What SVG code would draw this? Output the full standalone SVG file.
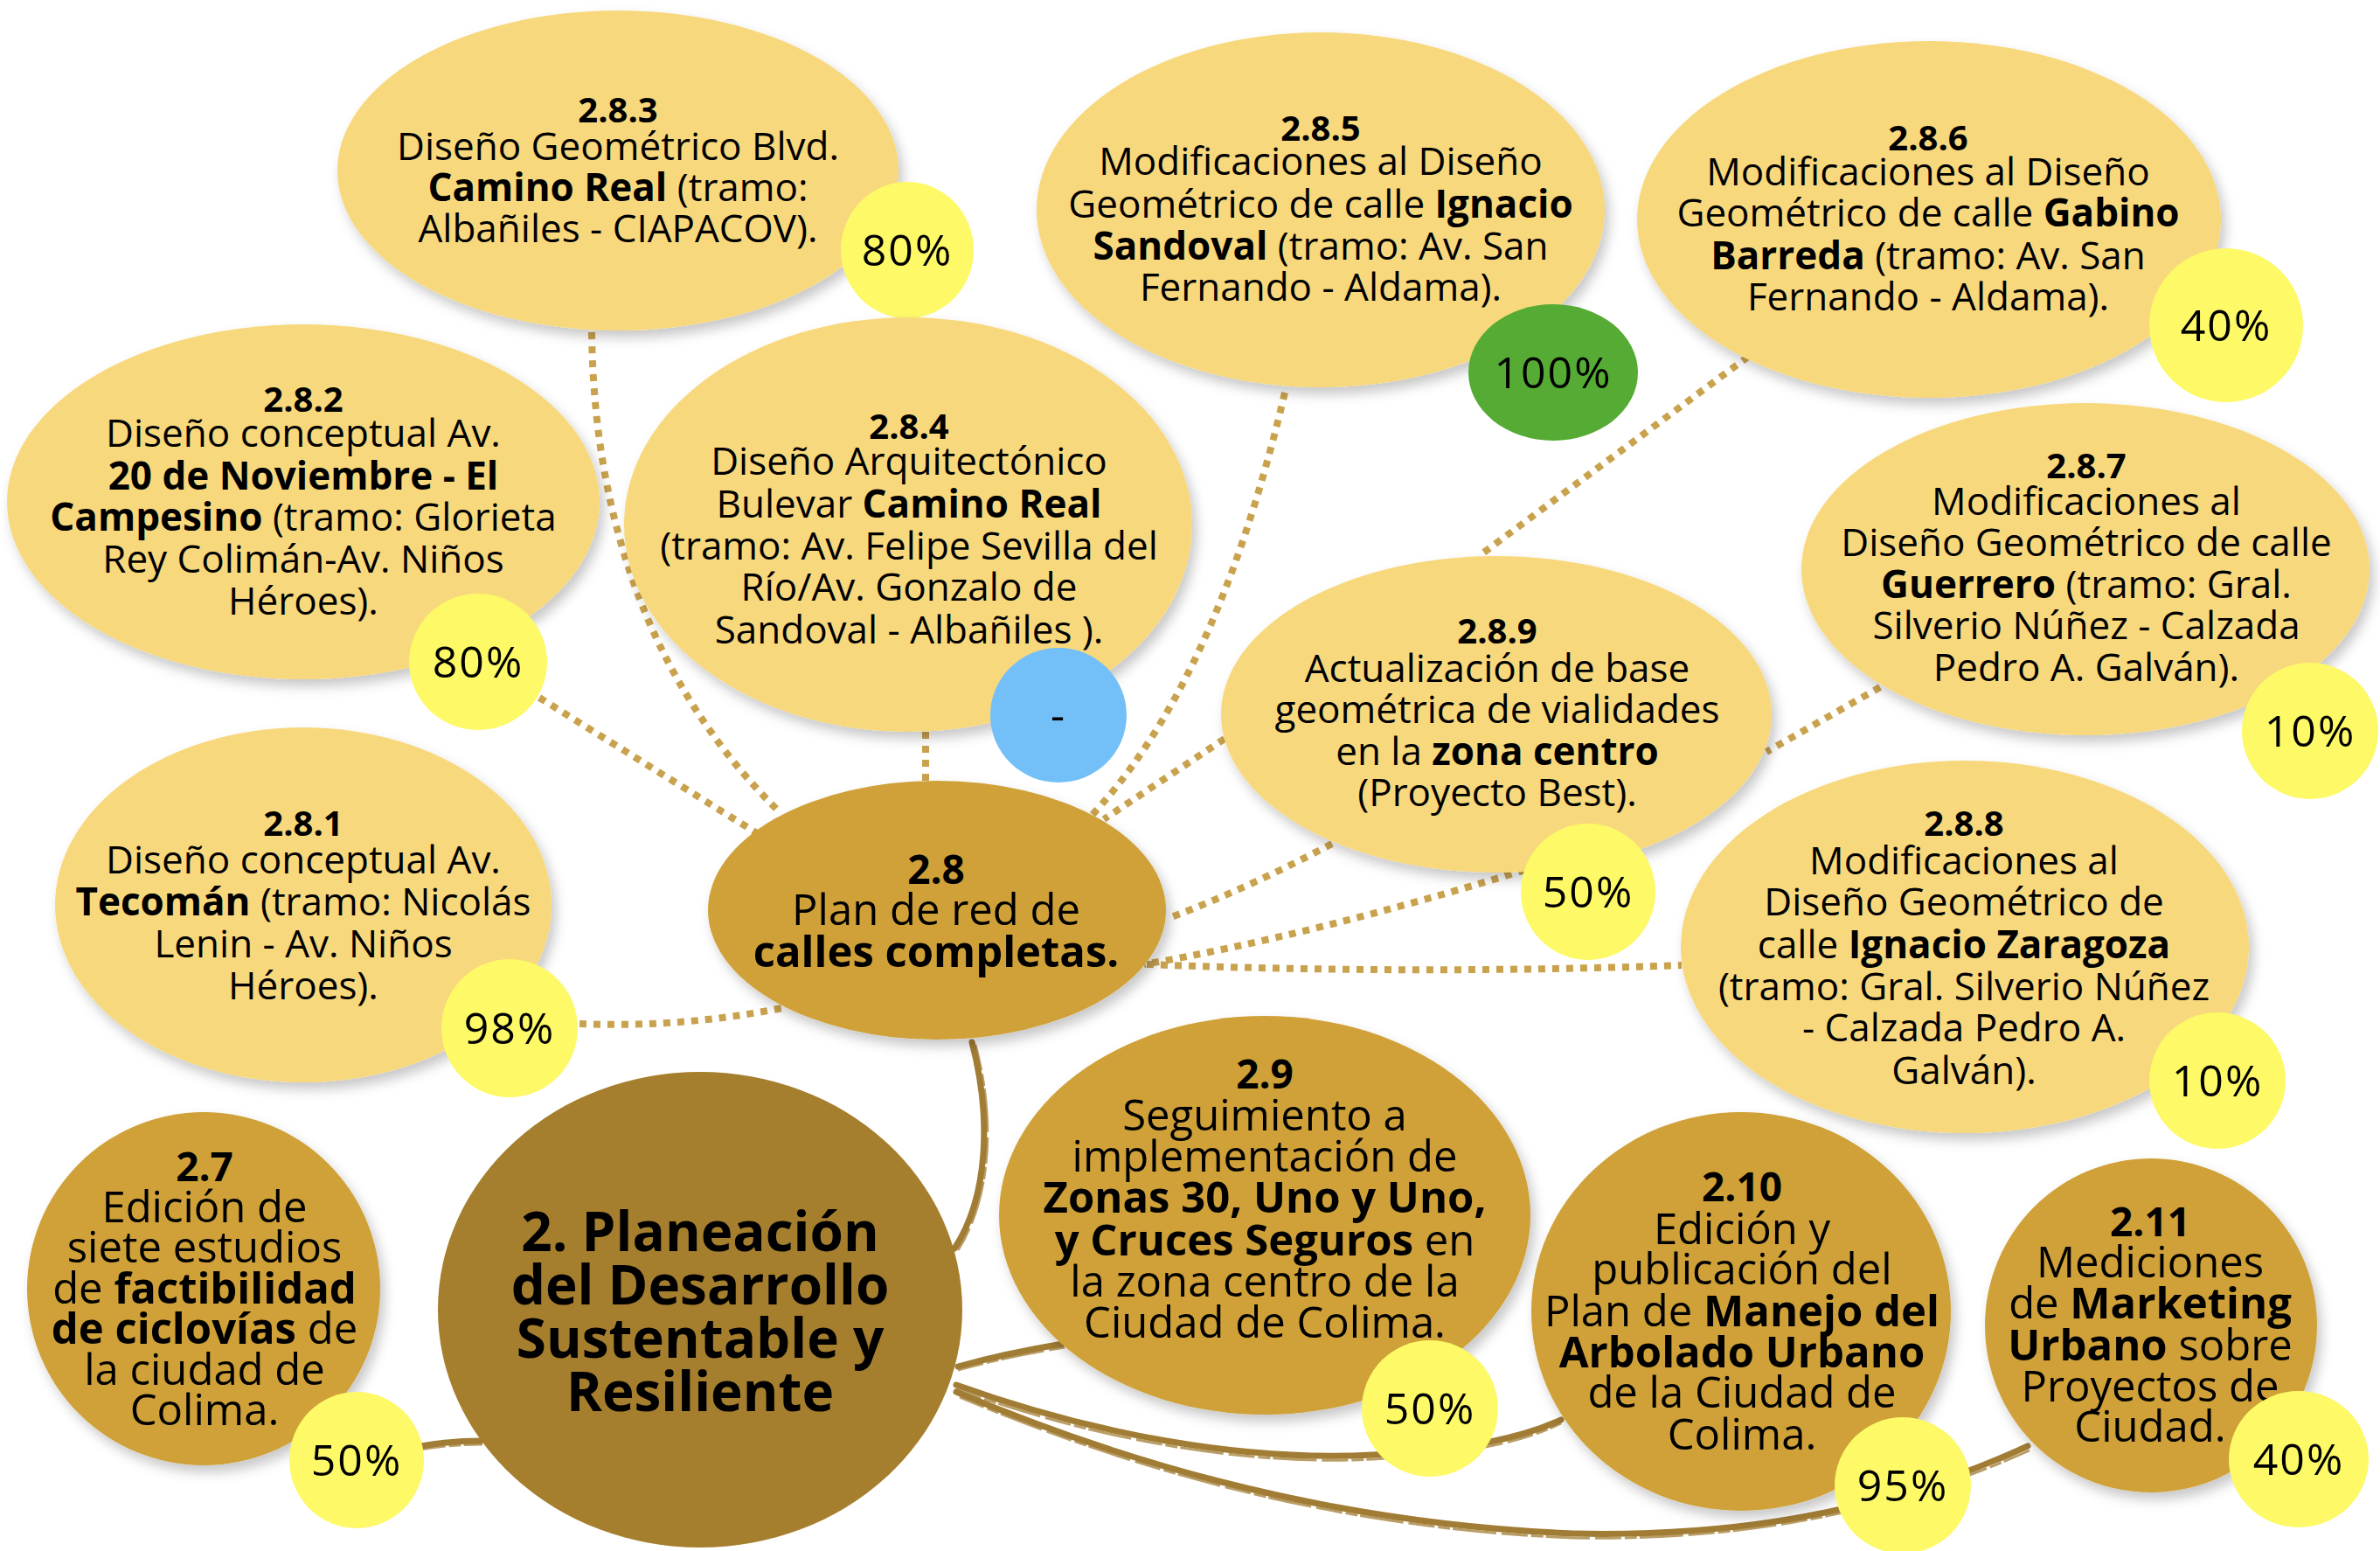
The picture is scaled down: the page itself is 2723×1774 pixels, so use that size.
<svg xmlns="http://www.w3.org/2000/svg" width="2723" height="1774" viewBox="0 0 2723 1774">
<defs>
<filter id="sh" x="-10%" y="-10%" width="125%" height="130%">
<feDropShadow dx="5" dy="8" stdDeviation="7" flood-color="#000" flood-opacity="0.22"/>
</filter>
<style>
.lt{fill:#F8D87C;filter:url(#sh)}
.md{fill:#CFA139;filter:url(#sh)}
.mn{fill:#A67F2E}
.yb{fill:#FDF967}
.bb{fill:#73BFF7}
.gb{fill:#55AB33}
text{font-family:"Open Sans","Liberation Sans",sans-serif;fill:#000;text-anchor:middle}
.s{font-size:44px}
.h{font-size:40px;font-weight:700}
.m{font-size:49px}
.hm{font-size:46px;font-weight:700}
.b{font-weight:700}
.pc{font-size:50px;letter-spacing:2px}
.big{font-size:62px;font-weight:700}
.dot{fill:none;stroke:#C9A24E;stroke-width:8;stroke-dasharray:8 8}
.br{fill:none;stroke:#A17C34;stroke-width:7;stroke-linecap:round}
.brt{fill:none;stroke:#A17C34;stroke-width:3;stroke-dasharray:30 4 14 3 50 6;opacity:0.75}
</style>
</defs>
<rect width="2723" height="1774" fill="#fff"/>
<g id="connectors">
<path class="dot" d="M677,380 C680,620 760,800 893,930"/>
<path class="dot" d="M617,798 L866,953"/>
<path class="dot" d="M663,1171 Q780,1176 900,1152"/>
<path class="dot" d="M1059,837 L1059,896"/>
<path class="dot" d="M1470,449 Q1390,790 1240,942"/>
<path class="dot" d="M2000,408 L1696,633"/>
<path class="dot" d="M1401,845 L1263,937"/>
<path class="dot" d="M1524,965 Q1430,1015 1335,1051"/>
<path class="dot" d="M1745,995 Q1500,1070 1309,1103"/>
<path class="dot" d="M1312,1103 Q1620,1115 1924,1104"/>
<path class="dot" d="M2151,786 L2021,860"/>
<path class="br" d="M1112,1192 C1135,1280 1130,1370 1092,1428"/>
<path class="brt" d="M1116,1195 C1139,1280 1134,1370 1096,1430"/>
<path class="br" d="M1096,1563 Q1150,1548 1216,1537"/>
<path class="brt" d="M1096,1567 Q1150,1552 1218,1541"/>
<path class="br" d="M1094,1584 C1250,1640 1420,1672 1571,1664 C1680,1658 1740,1645 1786,1624"/>
<path class="brt" d="M1094,1589 C1250,1645 1420,1677 1571,1669 C1680,1663 1740,1650 1786,1628"/>
<path class="br" d="M1094,1592 C1260,1662 1500,1742 1800,1754 C1980,1758 2150,1732 2320,1654"/>
<path class="brt" d="M1098,1598 C1263,1667 1500,1747 1800,1759 C1980,1762 2150,1736 2322,1659"/>
<path class="br" d="M482,1654 Q515,1648 550,1648"/>
<path class="brt" d="M480,1658 Q515,1652 552,1652"/>
</g>
<g id="n283">
<ellipse class="lt" cx="707" cy="195" rx="321" ry="183"/>
<text class="h" x="707" y="140">2.8.3</text>
<text class="s" x="707" y="183">Diseño Geométrico Blvd.</text>
<text class="s" x="707" y="230"><tspan class="b">Camino Real</tspan> (tramo:</text>
<text class="s" x="707" y="277">Albañiles - CIAPACOV).</text>
<ellipse class="yb" cx="1038" cy="286" rx="76" ry="78"/>
<text class="pc" x="1038" y="304">80%</text>
</g>
<g id="n282">
<ellipse class="lt" cx="347" cy="574" rx="339" ry="203"/>
<text class="h" x="347" y="471">2.8.2</text>
<text class="s" x="347" y="511">Diseño conceptual Av.</text>
<text class="s b" x="347" y="560">20 de Noviembre - El</text>
<text class="s" x="347" y="607"><tspan class="b">Campesino</tspan> (tramo: Glorieta</text>
<text class="s" x="347" y="655">Rey Colimán-Av. Niños</text>
<text class="s" x="347" y="703">Héroes).</text>
<ellipse class="yb" cx="547" cy="757" rx="79" ry="78"/>
<text class="pc" x="547" y="775">80%</text>
</g>
<g id="n281">
<ellipse class="lt" cx="347" cy="1035" rx="284" ry="203"/>
<text class="h" x="347" y="956">2.8.1</text>
<text class="s" x="347" y="999">Diseño conceptual Av.</text>
<text class="s" x="347" y="1047"><tspan class="b">Tecomán</tspan> (tramo: Nicolás</text>
<text class="s" x="347" y="1095">Lenin - Av. Niños</text>
<text class="s" x="347" y="1143">Héroes).</text>
<ellipse class="yb" cx="583" cy="1176" rx="78" ry="79"/>
<text class="pc" x="583" y="1194">98%</text>
</g>
<g id="n284">
<ellipse class="lt" cx="1039" cy="600" rx="325" ry="237"/>
<text class="h" x="1040" y="502">2.8.4</text>
<text class="s" x="1040" y="543">Diseño Arquitectónico</text>
<text class="s" x="1040" y="592">Bulevar <tspan class="b">Camino Real</tspan></text>
<text class="s" x="1040" y="640">(tramo: Av. Felipe Sevilla del</text>
<text class="s" x="1040" y="687">Río/Av. Gonzalo de</text>
<text class="s" x="1040" y="736">Sandoval - Albañiles ).</text>
<ellipse class="bb" cx="1211" cy="818" rx="78" ry="77"/>
<text class="pc" x="1211" y="836">-</text>
</g>
<g id="n285">
<ellipse class="lt" cx="1511" cy="240" rx="325" ry="203"/>
<text class="h" x="1511" y="161">2.8.5</text>
<text class="s" x="1511" y="200">Modificaciones al Diseño</text>
<text class="s" x="1511" y="249">Geométrico de calle <tspan class="b">Ignacio</tspan></text>
<text class="s" x="1511" y="297"><tspan class="b">Sandoval</tspan> (tramo: Av. San</text>
<text class="s" x="1511" y="344">Fernando - Aldama).</text>
<ellipse class="gb" cx="1777" cy="426" rx="97" ry="78"/>
<text class="pc" x="1777" y="444">100%</text>
</g>
<g id="n286">
<ellipse class="lt" cx="2207" cy="251" rx="334" ry="204"/>
<text class="h" x="2206" y="172">2.8.6</text>
<text class="s" x="2206" y="212">Modificaciones al Diseño</text>
<text class="s" x="2206" y="259">Geométrico de calle <tspan class="b">Gabino</tspan></text>
<text class="s" x="2206" y="308"><tspan class="b">Barreda</tspan> (tramo: Av. San</text>
<text class="s" x="2206" y="355">Fernando - Aldama).</text>
<ellipse class="yb" cx="2547" cy="372" rx="88" ry="88"/>
<text class="pc" x="2547" y="390">40%</text>
</g>
<g id="n287">
<ellipse class="lt" cx="2386" cy="651" rx="325" ry="190"/>
<text class="h" x="2387" y="547">2.8.7</text>
<text class="s" x="2387" y="589">Modificaciones al</text>
<text class="s" x="2387" y="636">Diseño Geométrico de calle</text>
<text class="s" x="2387" y="684"><tspan class="b">Guerrero</tspan> (tramo: Gral.</text>
<text class="s" x="2387" y="731">Silverio Núñez - Calzada</text>
<text class="s" x="2387" y="779">Pedro A. Galván).</text>
<ellipse class="yb" cx="2643" cy="836" rx="78" ry="78"/>
<text class="pc" x="2643" y="854">10%</text>
</g>
<g id="n289">
<ellipse class="lt" cx="1712" cy="817" rx="315" ry="181"/>
<text class="h" x="1713" y="736">2.8.9</text>
<text class="s" x="1713" y="780">Actualización de base</text>
<text class="s" x="1713" y="827">geométrica de vialidades</text>
<text class="s" x="1713" y="875">en la <tspan class="b">zona centro</tspan></text>
<text class="s" x="1713" y="922">(Proyecto Best).</text>
<ellipse class="yb" cx="1817" cy="1020" rx="77" ry="78"/>
<text class="pc" x="1817" y="1038">50%</text>
</g>
<g id="n288">
<ellipse class="lt" cx="2248" cy="1083" rx="325" ry="213"/>
<text class="h" x="2247" y="956">2.8.8</text>
<text class="s" x="2247" y="1000">Modificaciones al</text>
<text class="s" x="2247" y="1047">Diseño Geométrico de</text>
<text class="s" x="2247" y="1096">calle <tspan class="b">Ignacio Zaragoza</tspan></text>
<text class="s" x="2247" y="1144">(tramo: Gral. Silverio Núñez</text>
<text class="s" x="2247" y="1191">- Calzada Pedro A.</text>
<text class="s" x="2247" y="1240">Galván).</text>
<ellipse class="yb" cx="2537" cy="1236" rx="78" ry="78"/>
<text class="pc" x="2537" y="1254">10%</text>
</g>
<g id="n28">
<ellipse class="md" cx="1072" cy="1041" rx="262" ry="148"/>
<text class="hm" x="1071" y="1011">2.8</text>
<text class="m" x="1071" y="1058">Plan de red de</text>
<text class="m b" x="1071" y="1106">calles completas.</text>
</g>
<g id="n27">
<ellipse class="md" cx="233" cy="1474" rx="202" ry="202"/>
<text class="hm" x="234" y="1351">2.7</text>
<text class="m" x="234" y="1398">Edición de</text>
<text class="m" x="234" y="1444">siete estudios</text>
<text class="m" x="234" y="1491">de <tspan class="b">factibilidad</tspan></text>
<text class="m" x="234" y="1537"><tspan class="b">de ciclovías</tspan> de</text>
<text class="m" x="234" y="1584">la ciudad de</text>
<text class="m" x="234" y="1630">Colima.</text>
<ellipse class="yb" cx="408" cy="1670" rx="77" ry="78"/>
<text class="pc" x="408" y="1688">50%</text>
</g>
<g id="n2">
<ellipse class="mn" cx="801" cy="1498" rx="300" ry="272"/>
<text class="big" x="801" y="1431">2. Planeación</text>
<text class="big" x="801" y="1492">del Desarrollo</text>
<text class="big" x="801" y="1553">Sustentable y</text>
<text class="big" x="801" y="1614">Resiliente</text>
</g>
<g id="n29">
<ellipse class="md" cx="1447" cy="1390" rx="304" ry="228"/>
<text class="hm" x="1447" y="1245">2.9</text>
<text class="m" x="1447" y="1293">Seguimiento a</text>
<text class="m" x="1447" y="1340">implementación de</text>
<text class="m b" x="1447" y="1387">Zonas 30, Uno y Uno,</text>
<text class="m" x="1447" y="1436"><tspan class="b">y Cruces Seguros</tspan> en</text>
<text class="m" x="1447" y="1483">la zona centro de la</text>
<text class="m" x="1447" y="1530">Ciudad de Colima.</text>
<ellipse class="yb" cx="1636" cy="1611" rx="78" ry="78"/>
<text class="pc" x="1636" y="1629">50%</text>
</g>
<g id="n210">
<ellipse class="md" cx="1992" cy="1500" rx="240" ry="228"/>
<text class="hm" x="1993" y="1374">2.10</text>
<text class="m" x="1993" y="1423">Edición y</text>
<text class="m" x="1993" y="1469">publicación del</text>
<text class="m" x="1993" y="1517">Plan de <tspan class="b">Manejo del</tspan></text>
<text class="m b" x="1993" y="1564">Arbolado Urbano</text>
<text class="m" x="1993" y="1610">de la Ciudad de</text>
<text class="m" x="1993" y="1658">Colima.</text>
<ellipse class="yb" cx="2177" cy="1699" rx="78" ry="78"/>
<text class="pc" x="2177" y="1717">95%</text>
</g>
<g id="n211">
<ellipse class="md" cx="2461" cy="1516" rx="190" ry="191"/>
<text class="hm" x="2460" y="1414">2.11</text>
<text class="m" x="2460" y="1461">Mediciones</text>
<text class="m" x="2460" y="1508">de <tspan class="b">Marketing</tspan></text>
<text class="m" x="2460" y="1556"><tspan class="b">Urbano</tspan> sobre</text>
<text class="m" x="2460" y="1603">Proyectos de</text>
<text class="m" x="2460" y="1649">Ciudad.</text>
<ellipse class="yb" cx="2630" cy="1669" rx="80" ry="78"/>
<text class="pc" x="2630" y="1687">40%</text>
</g>
</svg>
